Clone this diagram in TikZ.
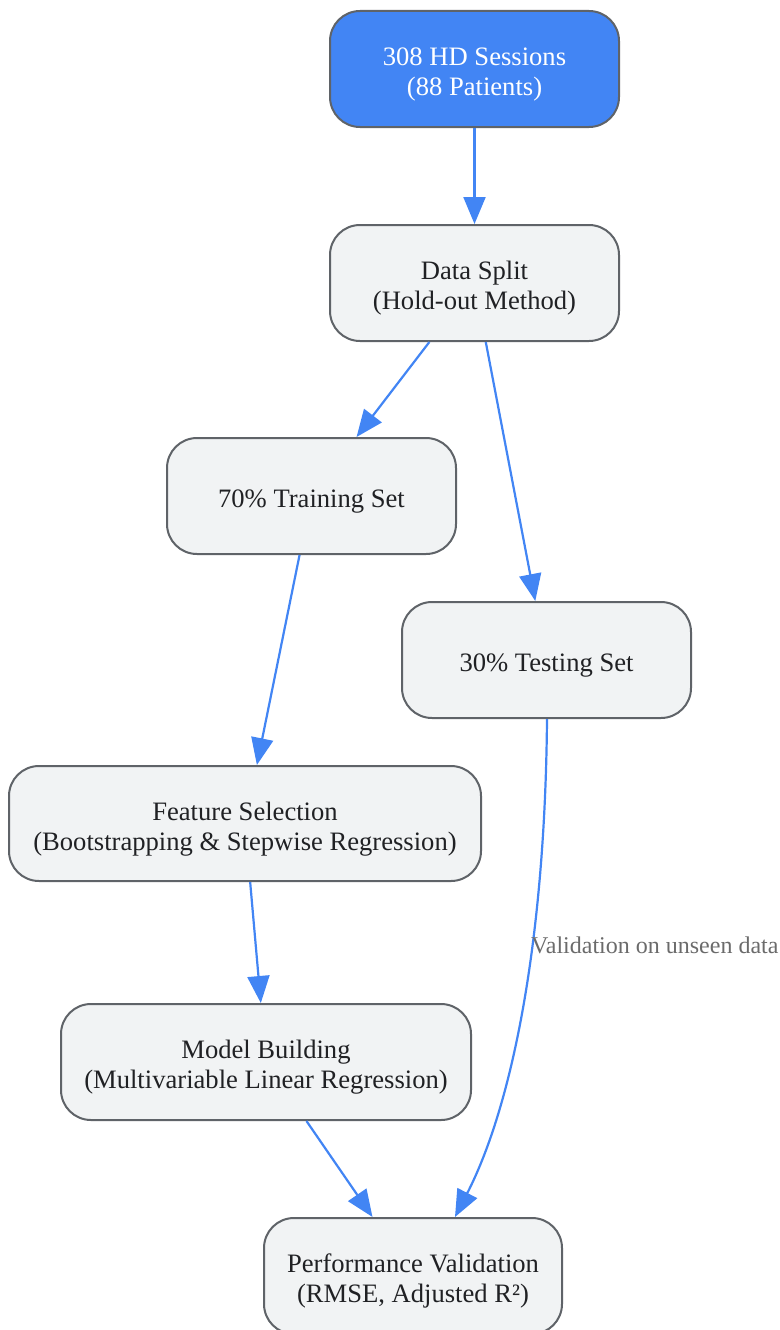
\documentclass[tikz,border=0pt]{standalone}
\usepackage{fontspec}
\setmainfont{Liberation Serif}
\usetikzlibrary{arrows.meta}
\definecolor{flowblue}{HTML}{4285F4}
\definecolor{boxfill}{HTML}{F1F3F4}
\definecolor{boxline}{HTML}{5F6368}
\definecolor{txt}{HTML}{202124}
\definecolor{lbl}{HTML}{6B6B6B}
\newcommand{\tstrut}{\rule{0pt}{29.5pt}}
\tikzset{
  box/.style={draw=boxline, line width=2pt, fill=boxfill, rounded corners=30pt,
    text=txt, align=center, inner sep=0pt,
    font=\fontsize{26.6}{30}\selectfont},
  startbox/.style={box, fill=flowblue, text=white},
  flow/.style={draw=flowblue, line width=2.2pt, -{Triangle[length=27pt,width=22pt]}},
  lab/.style={text=lbl, font=\fontsize{24}{27}\selectfont, inner sep=0pt, anchor=west}
}
\begin{document}
\begin{tikzpicture}[x=1pt,y=-1pt]
\useasboundingbox (0,0) rectangle (779,1330);
\node[startbox, minimum width=289pt, minimum height=116pt] (n1) at (474.5,69) {\tstrut 308 HD Sessions\\(88 Patients)};
\node[box, minimum width=289pt, minimum height=116pt] (n2) at (474.5,283) {\tstrut Data Split\\(Hold-out Method)};
\node[box, minimum width=289pt, minimum height=116pt] (n3) at (311.5,496) {\tstrut 70\% Training Set};
\node[box, minimum width=289pt, minimum height=116pt] (n4) at (546.5,660) {\tstrut 30\% Testing Set};
\node[box, minimum width=472pt, minimum height=115pt] (n5) at (245,823.5) {\tstrut Feature Selection\\(Bootstrapping \& Stepwise Regression)};
\node[box, minimum width=410pt, minimum height=116pt] (n6) at (266,1062) {\tstrut Model Building\\(Multivariable Linear Regression)};
\node[box, minimum width=298pt, minimum height=116pt] (n7) at (413,1276) {\tstrut Performance Validation\\(RMSE, Adjusted R²)};
\draw[flow] (n1) -- (n2);
\draw[flow] (n2) -- (n3);
\draw[flow] (n2) -- (n4);
\draw[flow] (n3) -- (n5);
\draw[flow] (n5) -- (n6);
\draw[flow] (n6) -- (n7);
\draw[flow] (n4.south) ++(0.5,0) coordinate (s4)
  (s4) .. controls (545,950) and (510,1110) .. (455,1217);
\node[lab] (l1) at (531,945) {Validation on unseen data};
\end{tikzpicture}
\end{document}
